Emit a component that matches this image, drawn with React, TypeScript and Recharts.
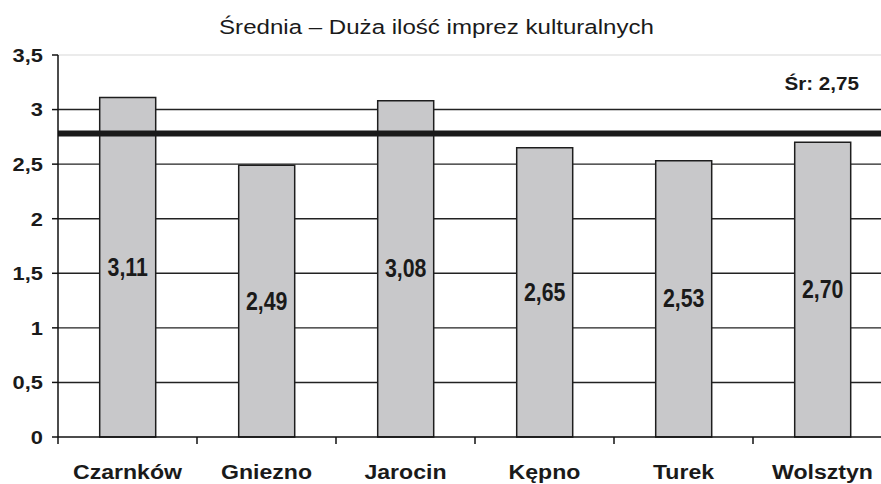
import React from 'react';
import { BarChart, Bar, XAxis, YAxis, ReferenceLine, LabelList } from 'recharts';

const categories = ['Czarnków', 'Gniezno', 'Jarocin', 'Kępno', 'Turek', 'Wolsztyn'];
const values = [3.11, 2.49, 3.08, 2.65, 2.53, 2.7];
const yTicks = [0, 0.5, 1, 1.5, 2, 2.5, 3, 3.5];
const gridValues = [0.5, 1, 1.5, 2, 2.5, 3];
const meanValue = 2.78;
const meanLabel = 'Śr: 2,75';
const title = 'Średnia – Duża ilość imprez kulturalnych';

const data = categories.map((name, i) => ({ name, value: values[i] }));

const FONT = '"Liberation Sans", Arial, sans-serif';
const TEXT = '#1a1a1a';
const CHART_W = 892;
const CHART_H = 484;
const LEFT = 58;
const plotWidth = CHART_W - LEFT;
const halfBand = plotWidth / categories.length / 2;

const fmt = (v: number) => v.toFixed(2).replace('.', ',');

const XTick = (props: any) => {
  const { x, y, payload } = props;
  const off = payload && typeof payload.offset === 'number' && payload.offset > 0 ? payload.offset : halfBand;
  return (
    <g>
      <line x1={x - off} x2={x - off} y1={y} y2={y + 7} stroke="#111" strokeWidth={1.5} />
      <text
        transform={`translate(${x},${y + 42}) scale(1.1,1)`}
        textAnchor="middle"
        fontFamily={FONT}
        fontWeight="bold"
        fontSize={21}
        fill={TEXT}
      >
        {payload.value}
      </text>
    </g>
  );
};

const YTick = (props: any) => {
  const { x, y, payload } = props;
  return (
    <text
      transform={`translate(${x},${y + 6.8}) scale(1.15,1)`}
      textAnchor="end"
      fontFamily={FONT}
      fontWeight="bold"
      fontSize={19}
      fill={TEXT}
    >
      {String(payload.value).replace('.', ',')}
    </text>
  );
};

const ValueLabel = (props: any) => {
  const { x, y, width, height, value } = props;
  const cx = Number(x) + Number(width) / 2;
  const cy = Number(y) + Number(height) / 2 - 1;
  return (
    <text
      transform={`translate(${cx},${cy}) scale(0.97,1.2)`}
      textAnchor="middle"
      dy="0.36em"
      fontFamily={FONT}
      fontWeight="bold"
      fontSize={22}
      fill={TEXT}
    >
      {fmt(Number(value))}
    </text>
  );
};

export default function App() {
  return (
    <div style={{ position: 'absolute', left: 0, top: 0, width: 881, height: 484, overflow: 'hidden', background: '#fff' }}>
      <BarChart
        width={CHART_W}
        height={CHART_H}
        data={data}
        margin={{ top: 55, right: 0, left: 0, bottom: 0 }}
        barCategoryGap="30%"
      >
        {gridValues.map((v) => (
          <ReferenceLine key={v} y={v} stroke="#222" strokeWidth={1.4} zIndex={0} />
        ))}
        <ReferenceLine y={3.5} stroke="#d8d8d8" strokeWidth={1.2} zIndex={0} />
        <XAxis
          dataKey="name"
          height={47}
          tickSize={0}
          tickMargin={0}
          axisLine={{ stroke: '#111', strokeWidth: 1.5 }}
          tickLine={false}
          tick={<XTick />}
          interval={0}
        />
        <YAxis
          width={LEFT}
          domain={[0, 3.5]}
          ticks={yTicks}
          tickSize={6}
          tickMargin={9}
          axisLine={{ stroke: '#111', strokeWidth: 1.5 }}
          tickLine={{ stroke: '#111', strokeWidth: 1.5 }}
          tick={<YTick />}
          interval={0}
        />
        <Bar dataKey="value" fill="#c8c8ca" stroke="#1e1e1e" strokeWidth={1.5} isAnimationActive={false}>
          <LabelList dataKey="value" content={<ValueLabel />} />
        </Bar>
        <ReferenceLine y={meanValue} stroke="#1a1a1a" strokeWidth={6} />
      </BarChart>
      <svg width={881} height={484} style={{ position: 'absolute', left: 0, top: 0, pointerEvents: 'none' }}>
        <text
          transform="translate(436.5,34) scale(1.235,1)"
          textAnchor="middle"
          fontFamily={FONT}
          fontSize={19.5}
          fill={TEXT}
        >
          {title}
        </text>
        <text
          transform="translate(859,90) scale(1.18,1)"
          textAnchor="end"
          fontFamily={FONT}
          fontWeight="bold"
          fontSize={17.5}
          fill={TEXT}
        >
          {meanLabel}
        </text>
      </svg>
    </div>
  );
}
